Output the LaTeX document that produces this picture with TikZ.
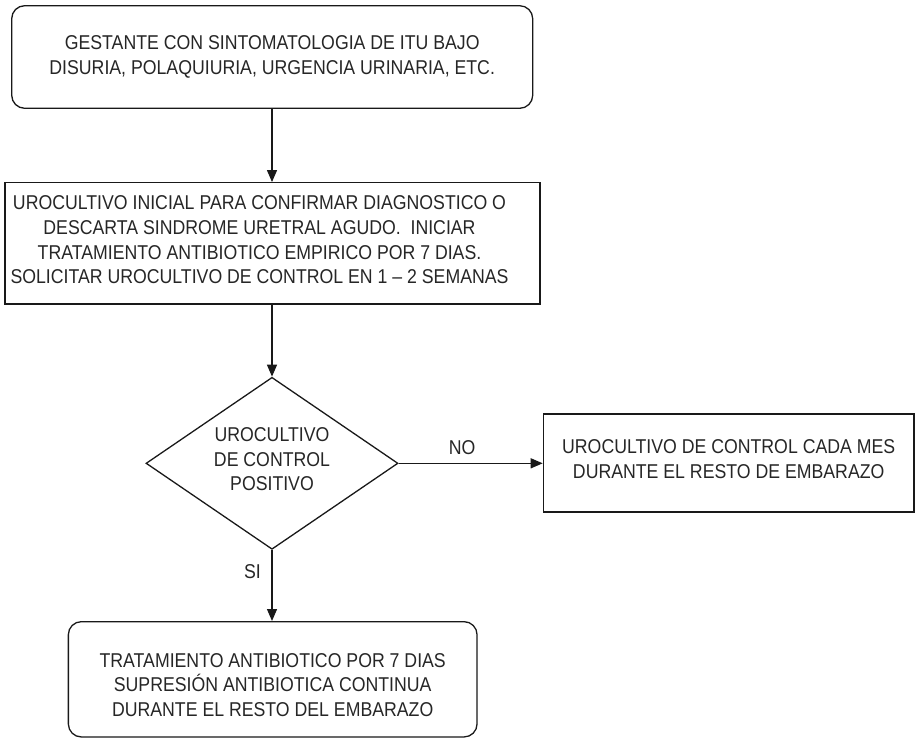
\documentclass[tikz,border=0pt]{standalone}
\usepackage{fontspec}
\setmainfont{Liberation Sans}[FakeStretch=0.885]
\usetikzlibrary{shapes.geometric,arrows.meta}
\begin{document}
\begin{tikzpicture}[x=1pt,y=-1pt,
  every node/.style={font=\fontsize{20}{24.8}\selectfont, text=black!85},
  shapeline/.style={draw=black!90, line width=1.3pt, inner sep=0pt},
  rbox/.style={shapeline, rounded corners=13pt},
  sbox/.style={shapeline},
  diam/.style={shapeline, shape=diamond},
  conn/.style={draw=black!90, line width=1.3pt, -{Triangle[length=12pt,width=10pt]}},
  edgelab/.style={inner sep=0pt}]
\useasboundingbox (0,0) rectangle (915,740);

\node[rbox, minimum width=521pt, minimum height=102.6pt, align=center] (b1) at (272.2,57)
  {GESTANTE CON SINTOMATOLOGIA DE ITU BAJO\\DISURIA, POLAQUIURIA, URGENCIA URINARIA, ETC.};

\node[sbox, minimum width=535pt, minimum height=121.3pt,
  label={[align=center, xshift=-13pt, yshift=3.5pt]center:UROCULTIVO INICIAL PARA CONFIRMAR DIAGNOSTICO O\\DESCARTA SINDROME URETRAL AGUDO.~ INICIAR\\TRATAMIENTO ANTIBIOTICO EMPIRICO POR 7 DIAS.\\SOLICITAR UROCULTIVO DE CONTROL EN 1 – 2 SEMANAS}]
  (b2) at (272.5,243.35) {};

\node[diam, minimum width=252pt, minimum height=172pt,
  label={[align=center, yshift=4pt]center:UROCULTIVO\\DE CONTROL\\POSITIVO}]
  (d) at (272,463.3) {};

\node[sbox, minimum width=370.7pt, minimum height=98pt,
  label={[align=center, yshift=4pt]center:UROCULTIVO DE CONTROL CADA MES\\DURANTE EL RESTO DE EMBARAZO}]
  (b3) at (728.7,463) {};

\node[rbox, minimum width=408.7pt, minimum height=115.3pt,
  label={[align=center, yshift=-5.7pt]center:TRATAMIENTO ANTIBIOTICO POR 7 DIAS\\SUPRESIÓN ANTIBIOTICA CONTINUA\\DURANTE EL RESTO DEL EMBARAZO}]
  (b4) at (272.7,679.3) {};

\draw[conn] (d.north |- b1.south) -- (d.north |- b2.north);
\draw[conn] (d.north |- b2.south) -- (d.north);
\draw[conn] (d.east) -- (d.east -| b3.west)
  node[edgelab, pos=0.44, anchor=south, yshift=7.7pt] {NO};
\draw[conn] (d.south) -- (d.south |- b4.north)
  node[edgelab, pos=0.31, anchor=east, xshift=-10.5pt] {SI};
\end{tikzpicture}
\end{document}
